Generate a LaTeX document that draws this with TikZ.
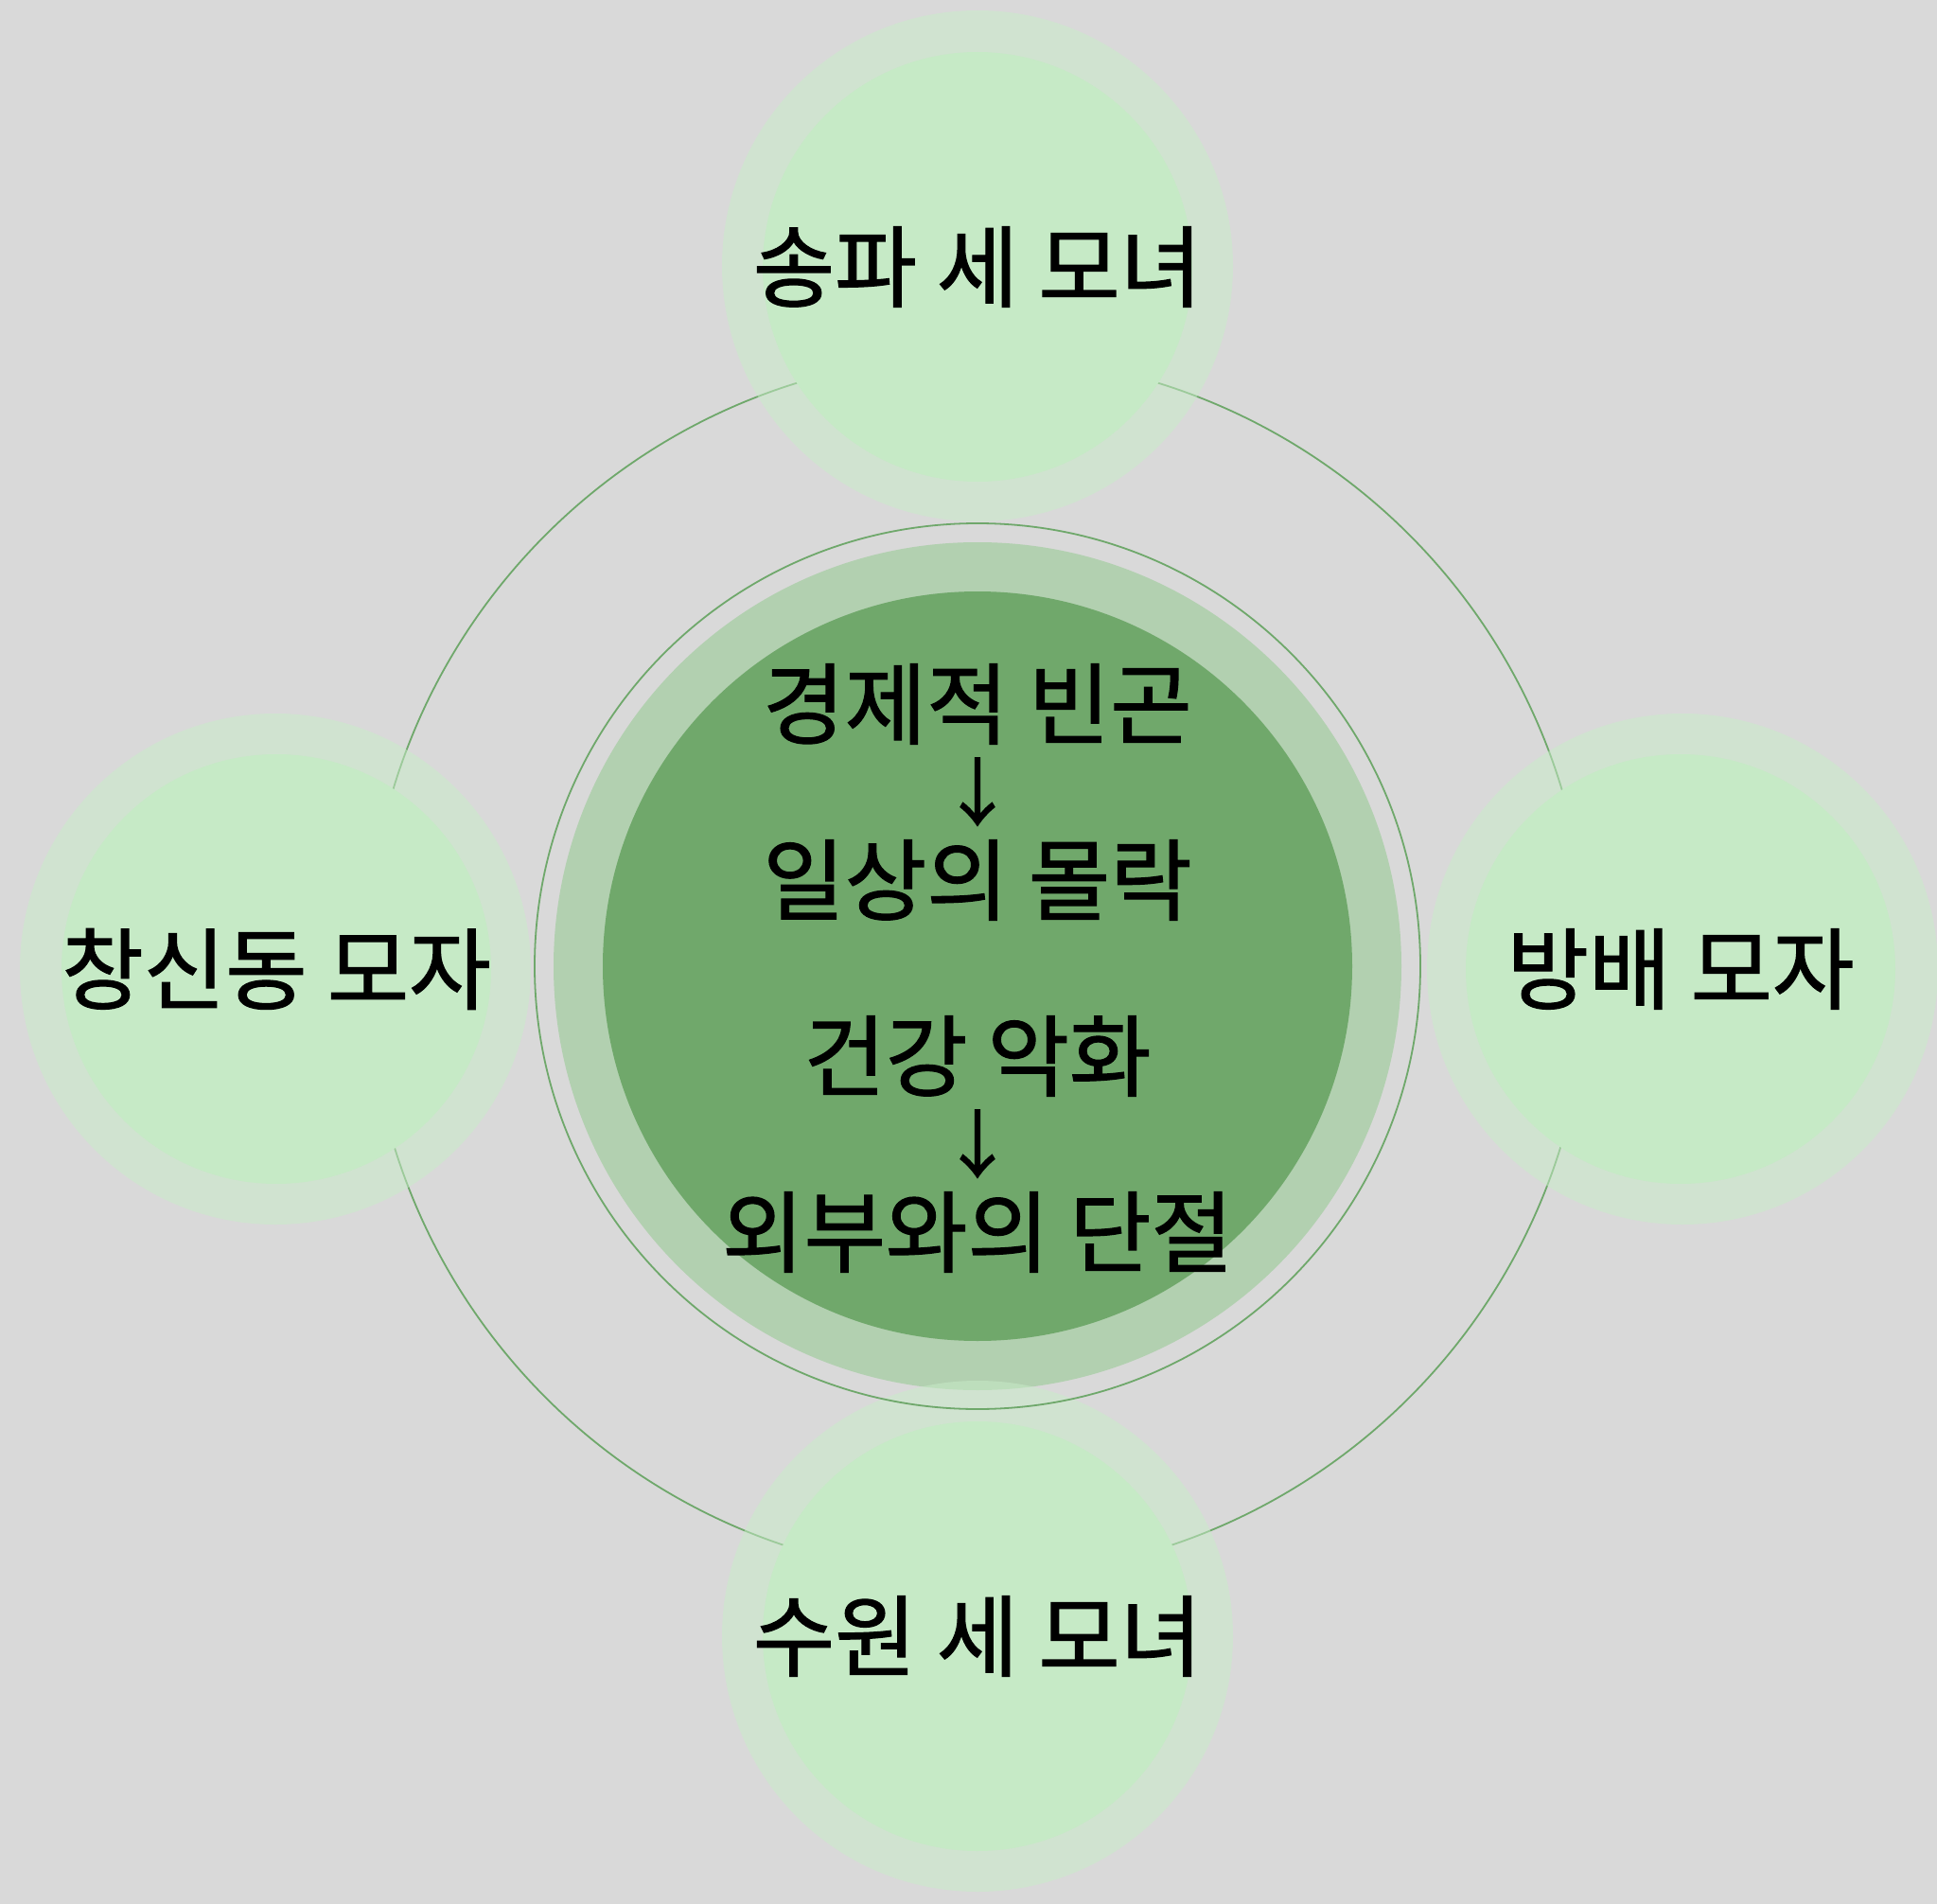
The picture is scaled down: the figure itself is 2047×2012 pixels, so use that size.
\documentclass[tikz,border=0pt]{standalone}
\usepackage{fontspec}
\newfontfamily\kr[FakeBold=1.3]{Noto Sans CJK KR}
\definecolor{bgc}{HTML}{D9D9D9}
\definecolor{ringline}{HTML}{6FA86B}
\definecolor{lightdisc}{HTML}{B2D0B0}
\definecolor{darkdisc}{HTML}{70A86B}
\definecolor{halo}{HTML}{C9EDC9}
\definecolor{satfill}{HTML}{C6EAC6}
\newcommand{\downarr}{{\fontsize{39}{46.5}\selectfont\raisebox{3pt}{↓}}}
\tikzset{
  halobox/.style={circle, fill=halo, fill opacity=0.5, minimum size=270pt, inner sep=0pt},
  satbox/.style={circle, fill=satfill, minimum size=227pt, inner sep=0pt},
  sattext/.style={font=\kr\fontsize{47}{46.5}\selectfont, text=black, inner sep=0pt},
  thinring/.style={circle, draw=ringline, line width=0.9pt, inner sep=0pt},
}
\begin{document}
\begin{tikzpicture}[x=0.5pt,y=-0.5pt]
\fill[bgc] (0,0) rectangle (2047,2012);
\useasboundingbox (0,0) rectangle (2047,2012);
% big ring
\node[thinring, minimum size=645pt] (bigring) at (1033,1021) {};
% centre discs
\node[circle, fill=lightdisc, minimum size=448pt, inner sep=0pt] (clight) at (1033,1021) {};
\node[circle, fill=darkdisc, minimum size=396pt, inner sep=0pt] (cdark) at (1033,1021) {};
% halos
\node[halobox] (htop) at (1033,281) {};
\node[halobox] (hleft) at (291,1024) {};
\node[halobox] (hright) at (1778,1024) {};
\node[halobox] (hbot) at (1033,1729) {};
% thin ring round centre
\node[thinring, minimum size=468pt] (cring) at (1033,1021) {};
% satellite discs
\node[satbox] (stop) at (1033,282) {};
\node[satbox] (sleft) at (292,1024) {};
\node[satbox] (sright) at (1776,1024) {};
\node[satbox] (sbot) at (1033,1729) {};
% texts
\node[sattext] (ttop) at (stop) {송파 세 모녀};
\node[sattext] (tleft) at (sleft) {창신동 모자};
\node[sattext] (tright) at (sright) {방배 모자};
\node[sattext] (tbot) at (sbot) {수원 세 모녀};
\node[sattext, align=center] (tcenter) at (1033,1023) {경제적 빈곤\\\downarr\\일상의 몰락\\[46.5pt]건강 악화\\\downarr\\외부와의 단절};
\end{tikzpicture}
\end{document}
